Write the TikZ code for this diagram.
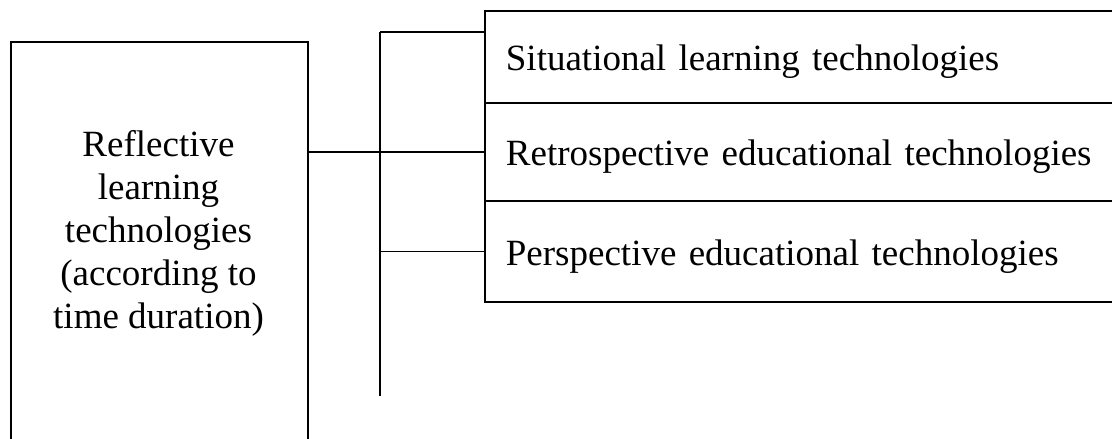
\documentclass[tikz,border=0pt]{standalone}
\usepackage{fontspec}
\setmainfont{Liberation Serif}
\begin{document}
\begin{tikzpicture}[x=1pt, y=-1pt, line width=1.8pt,
    kind/.style={draw, anchor=north west, minimum width=660pt, minimum height=98pt,
                 inner xsep=21pt, text width=618pt, align=left,
                 text height=34pt, text depth=6pt, font=\fontsize{37}{43}\selectfont},
    link/.style={line width=1.8pt}]
    \useasboundingbox (0,0) rectangle (1112,439);
    \clip (0,0) rectangle (1112,439);

    % main box on the left, its lower edge runs off the page
    \node[draw, anchor=north west, minimum width=297pt, minimum height=420pt] (reflbox) at (10,41) {};
    \node[align=center, font=\fontsize{37}{43}\selectfont] (refl) at (158.5,233)
        {Reflective\\learning\\technologies\\(according to\\time duration)};

    % the three kinds
    \node[kind, minimum height=92pt]  (sit)   at (484,10)  {Situational learning technologies};
    \node[kind]                       (retro) at (484,102) {Retrospective educational technologies};
    \node[kind, minimum height=101pt] (persp) at (484,200) {Perspective educational technologies};

    % bus line
    \coordinate (bustop) at (380,32);
    \coordinate (busbot) at (380,396);
    \draw[link] (bustop) -- (busbot);
    \draw[link] (bustop) -- (bustop -| sit.west);
    \draw[link] (reflbox.east |- retro.west) -- (retro.west);
    \draw[link] (bustop |- persp.west) -- (persp.west);
\end{tikzpicture}
\end{document}
